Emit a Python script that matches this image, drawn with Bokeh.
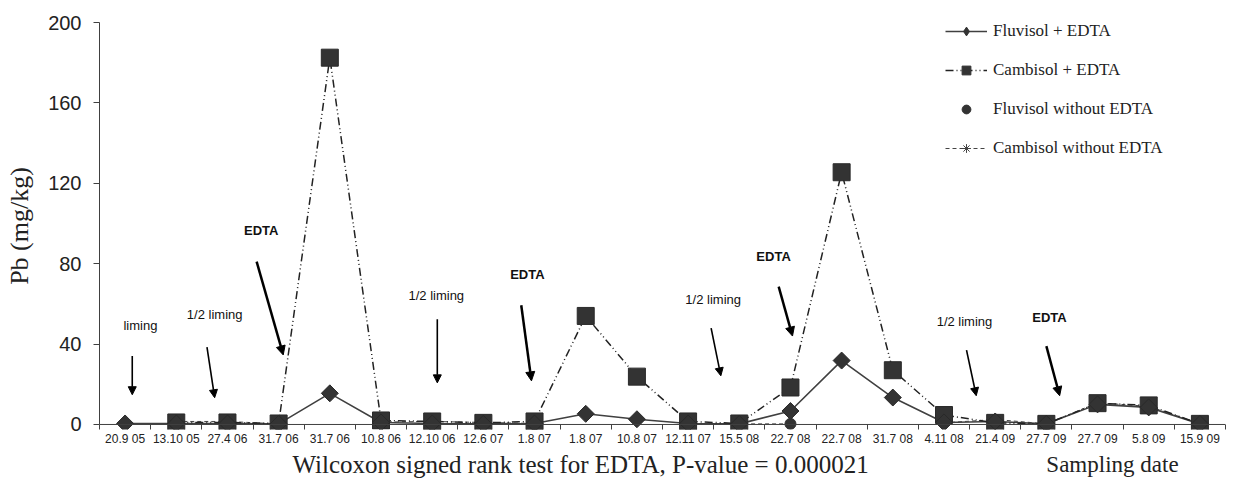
import math
from bokeh.plotting import figure
from bokeh.layouts import column
from bokeh.models import (FixedTicker, Span, Label, Arrow, NormalHead, Legend,
                          LegendItem, Range1d)
from bokeh.embed import file_html
from bokeh.resources import INLINE

nan = float("nan")

# ---------------- data ----------------
dates = ["20.9 05", "13.10 05", "27.4 06", "31.7 06", "31.7 06", "10.8 06",
         "12.10 06", "12.6 07", "1.8 07", "1.8 07", "10.8 07", "12.11 07",
         "15.5 08", "22.7 08", "22.7 08", "31.7 08", "4.11 08", "21.4 09",
         "27.7 09", "27.7 09", "5.8 09", "15.9 09"]

fluvisol_edta = [0.5, 0.5, 0.5, 0.3, 15.5, 1.0, 0.5, 0.3, 0.5, 5.3, 2.6, 0.5,
                 0.3, 6.7, 31.8, 13.4, 1.0, 1.5, 0.3, 10.0, 8.5, 0.3]
cambisol_edta = [nan, 1.0, 1.0, 0.5, 182.5, 2.0, 1.5, 0.8, 1.5, 54.0, 23.8,
                 1.5, 0.5, 18.4, 125.5, 27.0, 4.7, 0.8, 0.3, 10.6, 9.5, 0.3]
fluvisol_no_edta = [nan, nan, nan, 0.3, nan, nan, nan, nan, 0.3, nan, nan,
                    nan, nan, 0.3, nan, nan, nan, nan, 0.3, nan, nan, nan]
cambisol_no_edta = [nan, 1.5, 1.5, 0.3, nan, 1.2, 1.5, 1.0, 0.5, nan, nan,
                    0.5, 0.3, 0.3, nan, nan, 0.8, 2.5, 0.3, 10.8, 9.0, 0.5]

y_ticks = [0, 40, 80, 120, 160, 200]

# annotations (text, x, y, bold) and arrows (x0, y0, x1, y1)
ann_text = ["liming", "1/2 liming", "EDTA", "1/2 liming", "EDTA",
            "1/2 liming", "EDTA", "1/2 liming", "EDTA"]
ann_x = [0.30, 1.75, 2.66, 6.08, 7.86, 11.49, 12.67, 16.40, 18.06]
ann_y = [49.4, 54.8, 96.3, 64.2, 74.6, 62.2, 83.5, 51.4, 53.3]
ann_bold = [False, False, True, False, True, False, True, False, True]

arr_x0 = [0.14, 1.60, 2.57, 6.10, 7.74, 11.45, 12.77, 16.44, 18.00]
arr_y0 = [34.1, 38.5, 81.0, 52.3, 59.3, 47.9, 68.6, 37.0, 39.0]
arr_x1 = [0.14, 1.75, 3.09, 6.10, 7.94, 11.64, 13.04, 16.63, 18.26]
arr_y1 = [14.8, 13.3, 34.6, 20.7, 21.7, 24.2, 44.0, 14.3, 14.3]

foot_text = ["Wilcoxon signed rank test for EDTA, P-value = 0.000021", "Sampling date"]
foot_x = [3.27, 18.0]
foot_size = ["25px", "23px"]

idx = list(range(len(dates)))

W = 1226
H_MAIN = 448
H_FOOT = 31

# ---------------- main figure ----------------
xr = Range1d(-0.5, 21.5)
p = figure(width=W, height=H_MAIN, output_backend="svg", toolbar_location=None,
           x_range=xr, y_range=Range1d(-2.5, 200),
           min_border_left=99, min_border_right=1, min_border_top=22,
           min_border_bottom=16)
p.outline_line_color = None
p.xgrid.grid_line_color = None
p.ygrid.grid_line_color = None

AX = "#404040"
TXT = "#222222"

# x axis
xa = p.xaxis[0]
xa.ticker = FixedTicker(ticks=idx, minor_ticks=[i - 0.5 for i in range(len(dates) + 1)])
xa.major_label_overrides = {i: d for i, d in enumerate(dates)}
xa.axis_line_color = None
xa.major_tick_line_color = None
xa.major_tick_out = 0
xa.major_tick_in = 0
xa.minor_tick_line_color = AX
xa.minor_tick_in = 5
xa.minor_tick_out = 0
xa.major_label_standoff = 2
xa.major_label_text_font = "Liberation Sans"
xa.major_label_text_font_size = "12px"
xa.major_label_text_color = TXT

p.add_layout(Span(location=0, dimension="width", line_color=AX, line_width=1))

# y axis
ya = p.yaxis[0]
ya.ticker = FixedTicker(ticks=y_ticks)
ya.bounds = (0, 200)
ya.axis_line_color = AX
ya.major_tick_line_color = AX
ya.major_tick_out = 6
ya.major_tick_in = 0
ya.minor_tick_line_color = None
ya.major_label_standoff = 12
ya.major_label_text_font = "Liberation Sans"
ya.major_label_text_font_size = "20px"
ya.major_label_text_color = TXT
ya.axis_label = "Pb (mg/kg)"
ya.axis_label_text_font = "Liberation Serif"
ya.axis_label_text_font_size = "26px"
ya.axis_label_text_font_style = "normal"
ya.axis_label_text_color = TXT
ya.axis_label_standoff = 11

MK = "#333333"

# series
cno_line = p.line(idx, cambisol_no_edta, line_color="#444444", line_width=1,
                  line_dash="4 3")
cno_pts = p.scatter(idx, cambisol_no_edta, marker="asterisk", size=7,
                    line_color="#444444", line_width=1)

fl_line = p.line(idx, fluvisol_edta, line_color=AX, line_width=1.6)
cb_line = p.line(idx, cambisol_edta, line_color=TXT, line_width=1.5,
                 line_dash="8 3 1 3 1 3")
fno_pts = p.scatter(idx, fluvisol_no_edta, marker="circle", size=11,
                    fill_color=MK, line_color=MK)
cb_pts = p.scatter(idx, cambisol_edta, marker="square", size=17,
                   fill_color=MK, line_color="#2a2a2a")
fl_pts = p.scatter(idx, fluvisol_edta, marker="square", size=12,
                   angle=math.pi / 4, fill_color=MK, line_color="#2a2a2a")

# legend-only markers
fl_leg = p.scatter([nan], [nan], marker="diamond", size=12, fill_color=MK,
                   line_color=MK)
cb_leg = p.scatter([nan], [nan], marker="square", size=12, fill_color=MK,
                   line_color=MK)

legend = Legend(items=[
    LegendItem(label="Fluvisol + EDTA", renderers=[fl_line, fl_leg]),
    LegendItem(label="Cambisol + EDTA", renderers=[cb_line, cb_leg]),
    LegendItem(label="Fluvisol without EDTA", renderers=[fno_pts]),
    LegendItem(label="Cambisol without EDTA", renderers=[cno_line, cno_pts]),
], location=(846, 270), padding=0, margin=0, glyph_width=42, glyph_height=22,
   label_standoff=6, spacing=17, label_text_font="Liberation Serif",
   label_text_font_size="17px", label_text_color=TXT,
   background_fill_alpha=0, border_line_alpha=0)
p.add_layout(legend)

# annotations
for t, x, y, b in zip(ann_text, ann_x, ann_y, ann_bold):
    p.add_layout(Label(x=x, y=y, text=t, text_align="center",
                       text_baseline="middle", text_font="Liberation Sans",
                       text_font_size="13px",
                       text_font_style="bold" if b else "normal",
                       text_color="#111111"))

for x0, y0, x1, y1, b in zip(arr_x0, arr_y0, arr_x1, arr_y1, ann_bold):
    lw = 2.5 if b else 1.6
    p.add_layout(Arrow(x_start=x0, y_start=y0, x_end=x1, y_end=y1,
                       line_color="black", line_width=lw,
                       end=NormalHead(size=9 if b else 8, fill_color="black",
                                      line_color="black", line_width=1)))

# ---------------- footer strip (shares x range) ----------------
f = figure(width=W, height=H_FOOT, output_backend="svg", toolbar_location=None,
           x_range=xr, y_range=Range1d(0, 1), x_axis_type=None,
           y_axis_type=None, min_border_left=99, min_border_right=1,
           min_border_top=0, min_border_bottom=0)
f.outline_line_color = None
f.xgrid.grid_line_color = None
f.ygrid.grid_line_color = None
for t, x, s in zip(foot_text, foot_x, foot_size):
    f.add_layout(Label(x=x, y=0.5, text=t, text_align="left",
                       text_baseline="middle", text_font="Liberation Serif",
                       text_font_size=s, text_color=TXT))

layout = column(p, f, spacing=0)
open("out.html", "w").write(file_html(layout, INLINE))
